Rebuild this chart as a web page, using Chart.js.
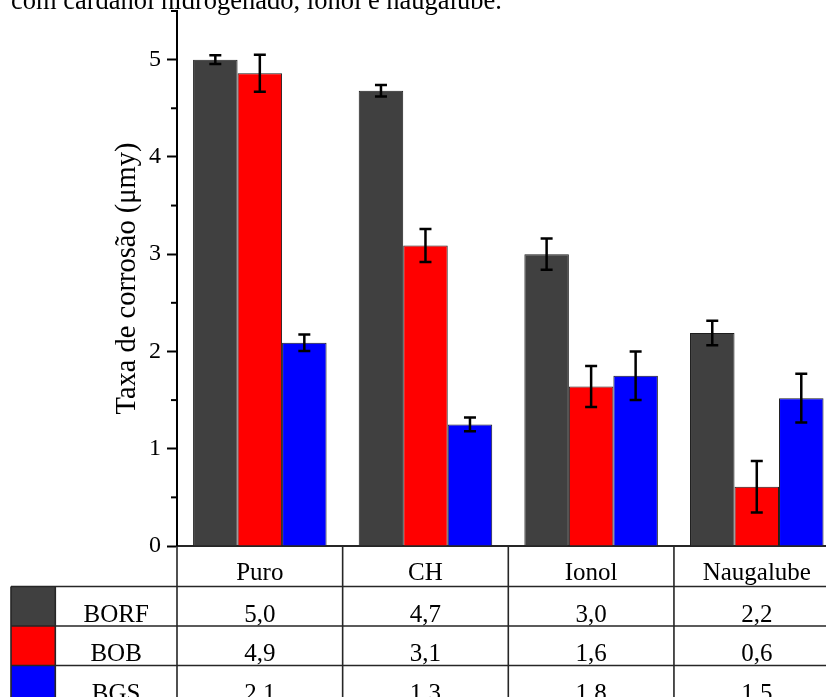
<!DOCTYPE html>
<html><head><meta charset="utf-8">
<script src="https://cdn.jsdelivr.net/npm/chart.js@4/dist/chart.umd.min.js"></script>
<style>
html,body{margin:0;padding:0;background:#fff;overflow:hidden;width:826px;height:697px;}
#wrap{position:relative;width:826px;height:697px;overflow:hidden;background:#fff;}
#cap{position:absolute;left:11px;top:-13px;font-family:'Liberation Serif',serif;font-size:26.5px;line-height:26px;white-space:nowrap;color:#000;}
canvas{position:absolute;left:0;top:0;}
</style></head><body>
<div id="wrap"><canvas id="c" width="842" height="697" style="width:842px;height:697px"></canvas><div id="cap">com cardanol hidrogenado, ionol e naugalube.</div></div>
<script>
// ---- data ----
const categories = ['Puro', 'CH', 'Ionol', 'Naugalube'];
const seriesNames = ['BORF', 'BOB', 'BGS'];
const seriesColors = ['#404040', '#ff0000', '#0000ff'];
const borfValues = [5.00, 4.68, 3.00, 2.19];
const bobValues  = [4.86, 3.09, 1.64, 0.61];
const bgsValues  = [2.09, 1.25, 1.75, 1.52];
const borfErrors = [0.045, 0.06, 0.16, 0.125];
const bobErrors  = [0.19, 0.17, 0.21, 0.265];
const bgsErrors  = [0.085, 0.07, 0.25, 0.25];
const yTickLabels = [0, 1, 2, 3, 4, 5];
const yMinorTicks = [0.5, 1.5, 2.5, 3.5, 4.5, 5.5];
const yTitle = 'Taxa de corrosão (μmy)';

const allValues = [borfValues, bobValues, bgsValues];
const allErrors = [borfErrors, bobErrors, bgsErrors];
const FONT = "'Liberation Serif', 'Times New Roman', serif";

const datasets = seriesNames.map((n, i) => ({
  label: n,
  data: allValues[i],
  errors: allErrors[i],
  backgroundColor: seriesColors[i],
  borderColor: '#1e1e1e',
  borderWidth: 1,
  categoryPercentage: 0.806,
  barPercentage: 1.0
}));

const errorBars = {
  id: 'errorBars',
  afterDatasetsDraw(chart) {
    const ctx = chart.ctx, y = chart.scales.y;
    ctx.save();
    ctx.strokeStyle = '#000';
    ctx.lineWidth = 2.5;
    chart.data.datasets.forEach((ds, i) => {
      chart.getDatasetMeta(i).data.forEach((bar, j) => {
        const v = ds.data[j], e = ds.errors[j];
        const yt = y.getPixelForValue(v + e), yb = y.getPixelForValue(v - e);
        const x = bar.x, cw = 6;
        ctx.beginPath();
        ctx.moveTo(x, yt); ctx.lineTo(x, yb);
        ctx.moveTo(x - cw, yt); ctx.lineTo(x + cw, yt);
        ctx.moveTo(x - cw, yb); ctx.lineTo(x + cw, yb);
        ctx.stroke();
      });
    });
    ctx.restore();
  }
};

const tableAndTicks = {
  id: 'tableAndTicks',
  afterDraw(chart) {
    const ctx = chart.ctx, ca = chart.chartArea, x = chart.scales.x, y = chart.scales.y;
    ctx.save();
    // minor y ticks
    ctx.strokeStyle = '#000';
    ctx.lineWidth = 2;
    yMinorTicks.forEach(v => {
      const py = y.getPixelForValue(v);
      ctx.beginPath();
      ctx.moveTo(ca.left - 6, py); ctx.lineTo(ca.left, py);
      ctx.stroke();
    });
    // table
    const top = ca.bottom;
    const hb = ca.bottom + 40.5;
    const rowH = 39.5;
    const leftX = 11, swR = 55.3;
    const W = chart.width;
    const half = (x.getPixelForValue(1) - x.getPixelForValue(0)) / 2;
    const edges = categories.map((c, i) => x.getPixelForValue(i) - half);
    edges.push(x.getPixelForValue(categories.length - 1) + half);
    seriesNames.forEach((n, k) => {
      ctx.fillStyle = seriesColors[k];
      ctx.fillRect(leftX, hb + k * rowH, swR - leftX, rowH);
    });
    ctx.strokeStyle = '#262626';
    ctx.lineWidth = 1.6;
    ctx.beginPath();
    for (let k = 0; k <= seriesNames.length; k++) {
      const yy = hb + k * rowH;
      ctx.moveTo(leftX, yy); ctx.lineTo(W, yy);
    }
    ctx.moveTo(leftX, hb); ctx.lineTo(leftX, chart.height);
    ctx.moveTo(swR, hb); ctx.lineTo(swR, chart.height);
    edges.forEach(ex => { ctx.moveTo(ex, top); ctx.lineTo(ex, chart.height); });
    ctx.stroke();
    ctx.fillStyle = '#000';
    ctx.font = '25px ' + FONT;
    ctx.textAlign = 'center';
    ctx.textBaseline = 'alphabetic';
    seriesNames.forEach((n, k) => {
      const base = hb + (k + 1) * rowH - 4.5;
      ctx.fillText(n, (swR + ca.left) / 2, base);
      allValues[k].forEach((v, i) => {
        ctx.fillText(v.toFixed(1).replace('.', ','), x.getPixelForValue(i), base);
      });
    });
    ctx.restore();
  }
};

new Chart(document.getElementById('c'), {
  type: 'bar',
  data: { labels: categories, datasets },
  plugins: [errorBars, tableAndTicks],
  options: {
    responsive: false,
    animation: false,
    layout: { padding: { top: 11, right: 2.4, left: 0, bottom: 0 } },
    plugins: { legend: { display: false }, tooltip: { enabled: false } },
    scales: {
      x: {
        grid: { display: false, drawTicks: false },
        border: { display: true, color: '#262626', width: 2 },
        ticks: { color: '#000', font: { family: FONT, size: 25 }, padding: 12, maxRotation: 0 },
        afterFit(s) { s.height = 151; s.paddingLeft = 0; s.paddingRight = 0; }
      },
      y: {
        min: 0, max: 5.5,
        grid: {
          drawOnChartArea: false, drawTicks: true, tickLength: 10, tickWidth: 2,
          tickColor: c => (Number.isInteger(c.tick.value) ? '#000' : 'rgba(0,0,0,0)')
        },
        border: { display: true, color: '#000', width: 2 },
        ticks: {
          stepSize: 0.5, padding: 6, color: '#000', font: { family: FONT, size: 24 },
          callback: v => (yTickLabels.includes(v) ? String(v) : '')
        },
        title: { display: true, text: yTitle, color: '#000', font: { family: FONT, size: 28.5 }, padding: { top: 110, bottom: 0 } },
        afterFit(s) { s.width = 177; s.paddingTop = 0; s.paddingBottom = 0; }
      }
    }
  }
});
</script>
</body></html>
